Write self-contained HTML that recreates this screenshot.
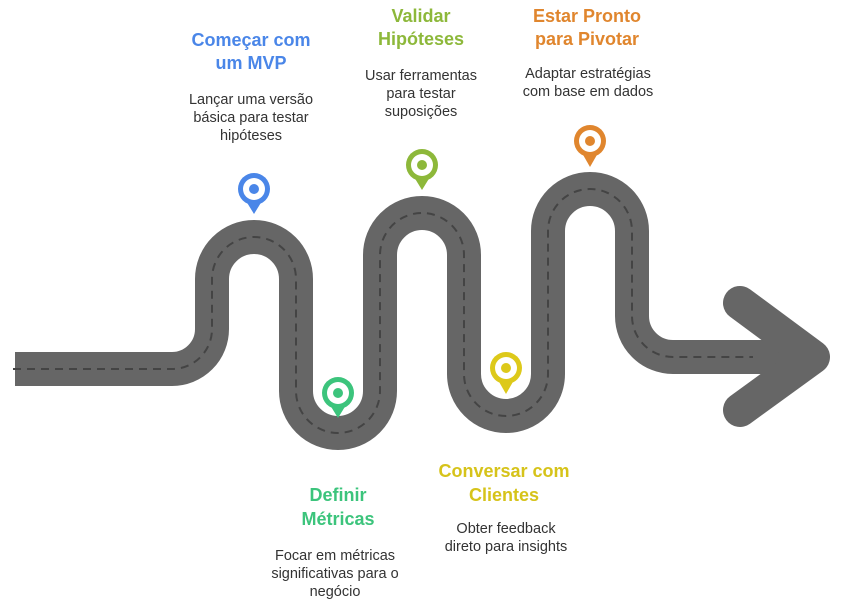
<!DOCTYPE html>
<html><head><meta charset="utf-8"><style>
html,body{margin:0;padding:0;background:#fff;}
svg{display:block;}
.t{font-family:"Liberation Sans",sans-serif;font-weight:bold;font-size:18px;text-anchor:middle;}
.d{font-family:"Liberation Sans",sans-serif;font-size:14.5px;fill:#333;text-anchor:middle;}
</style></head><body>
<svg width="845" height="608" viewBox="0 0 845 608" xmlns="http://www.w3.org/2000/svg">
<path d="M15 369 H172 A40 40 0 0 0 212 329 V279 A42 42 0 0 1 296 279 V391 A42 42 0 0 0 380 391 V255 A42 42 0 0 1 464 255 V374 A42 42 0 0 0 548 374 V231 A42 42 0 0 1 632 231 V316 A41 41 0 0 0 673 357 H810" fill="none" stroke="#666" stroke-width="34"/>
<path d="M740 303 L813 357 L740 410" fill="none" stroke="#666" stroke-width="34" stroke-linecap="round" stroke-linejoin="round"/>
<path d="M13 369 H172 A40 40 0 0 0 212 329 V279 A42 42 0 0 1 296 279 V391 A42 42 0 0 0 380 391 V255 A42 42 0 0 1 464 255 V374 A42 42 0 0 0 548 374 V231 A42 42 0 0 1 632 231 V316 A41 41 0 0 0 673 357 H753" fill="none" stroke="#444" stroke-width="2" stroke-dasharray="8 6"/>
<g fill="#4a86e8"><circle cx="254" cy="189" r="16"/><path d="M246 201 L254 214 L262 201 Z"/></g><circle cx="254" cy="189" r="11" fill="#fff"/><circle cx="254" cy="189" r="5" fill="#4a86e8"/>
<g fill="#3cc47c"><circle cx="338" cy="393" r="16"/><path d="M330 405 L338 418 L346 405 Z"/></g><circle cx="338" cy="393" r="11" fill="#fff"/><circle cx="338" cy="393" r="5" fill="#3cc47c"/>
<g fill="#8db83a"><circle cx="422" cy="165" r="16"/><path d="M414 177 L422 190 L430 177 Z"/></g><circle cx="422" cy="165" r="11" fill="#fff"/><circle cx="422" cy="165" r="5" fill="#8db83a"/>
<g fill="#ddc91a"><circle cx="506" cy="368" r="16"/><path d="M498 380 L506 394 L514 380 Z"/></g><circle cx="506" cy="368" r="11" fill="#fff"/><circle cx="506" cy="368" r="5" fill="#ddc91a"/>
<g fill="#e0862e"><circle cx="590" cy="141" r="16"/><path d="M582 153 L590 167 L598 153 Z"/></g><circle cx="590" cy="141" r="11" fill="#fff"/><circle cx="590" cy="141" r="5" fill="#e0862e"/>
<text class="t" fill="#4a86e8" x="251" y="46">Começar com</text>
<text class="t" fill="#4a86e8" x="251" y="69">um MVP</text>
<text class="d" x="251" y="104">Lançar uma versão</text>
<text class="d" x="251" y="122">básica para testar</text>
<text class="d" x="251" y="140">hipóteses</text>
<text class="t" fill="#8db83a" x="421" y="22">Validar</text>
<text class="t" fill="#8db83a" x="421" y="45">Hipóteses</text>
<text class="d" x="421" y="80">Usar ferramentas</text>
<text class="d" x="421" y="98">para testar</text>
<text class="d" x="421" y="116">suposições</text>
<text class="t" fill="#e0862e" x="587" y="22">Estar Pronto</text>
<text class="t" fill="#e0862e" x="587" y="45">para Pivotar</text>
<text class="d" x="588" y="78">Adaptar estratégias</text>
<text class="d" x="588" y="96">com base em dados</text>
<text class="t" fill="#3cc47c" x="338" y="501">Definir</text>
<text class="t" fill="#3cc47c" x="338" y="525">Métricas</text>
<text class="d" x="335" y="560">Focar em métricas</text>
<text class="d" x="335" y="578">significativas para o</text>
<text class="d" x="335" y="596">negócio</text>
<text class="t" fill="#d6c31a" x="504" y="477">Conversar com</text>
<text class="t" fill="#d6c31a" x="504" y="501">Clientes</text>
<text class="d" x="506" y="533">Obter feedback</text>
<text class="d" x="506" y="551">direto para insights</text>
</svg>
</body></html>
